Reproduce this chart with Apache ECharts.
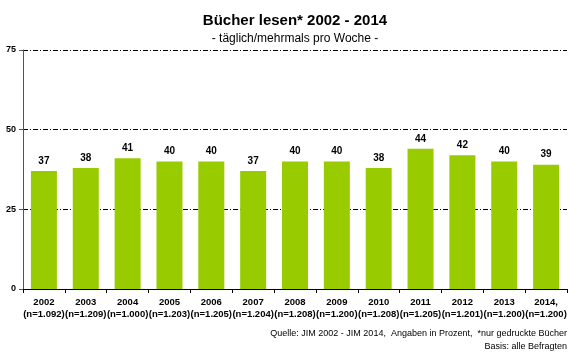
<!DOCTYPE html>
<html><head><meta charset="utf-8">
<script src="https://cdn.jsdelivr.net/npm/echarts@6/dist/echarts.min.js"></script>
<style>html,body{margin:0;padding:0;background:#fff}#c{width:580px;height:356px}</style>
</head><body><div id="c"></div>
<script>
const years = ['2002','2003','2004','2005','2006','2007','2008','2009','2010','2011','2012','2013','2014,'];
const samples = ['(n=1.092)','(n=1.209)','(n=1.000)','(n=1.203)','(n=1.205)','(n=1.204)','(n=1.208)','(n=1.200)','(n=1.208)','(n=1.205)','(n=1.201)','(n=1.200)','(n=1.200)'];
const values = [37,38,41,40,40,37,40,40,38,44,42,40,39];
const yTicks = [0,25,50,75];

const chart = echarts.init(document.getElementById('c'));
const F = 'Liberation Sans, Arial, sans-serif';
chart.setOption({
  animation:false,
  title:[
    {text:'Bücher lesen* 2002 - 2014', left:290, top:8, textAlign:'center',
     textStyle:{fontFamily:F,fontSize:15,fontWeight:'bold',color:'#000'}},
    {text:'- täglich/mehrmals pro Woche -', left:290, top:28, textAlign:'center',
     textStyle:{fontFamily:F,fontSize:12,fontWeight:'normal',color:'#000'}}
  ],
  graphic:[
    {type:'text',x:567,y:334,style:{text:'Quelle: JIM 2002 - JIM 2014,  Angaben in Prozent,  *nur gedruckte Bücher',
      align:'right',verticalAlign:'middle',font:'9px Liberation Sans, Arial, sans-serif',fill:'#000'}},
    {type:'text',x:567,y:347,style:{text:'Basis: alle Befragten',
      align:'right',verticalAlign:'middle',font:'9px Liberation Sans, Arial, sans-serif',fill:'#000'}}
  ],
  grid:{left:23,right:13,top:50,bottom:67},
  xAxis:{type:'category',data:years.map((y,i)=>y+'\n'+samples[i]),
    axisLine:{lineStyle:{color:'#000',width:1}},
    axisTick:{show:true,length:4,lineStyle:{color:'#000'}},
    axisLabel:{fontFamily:F,fontSize:9.5,fontWeight:'bold',color:'#000',lineHeight:12,margin:7,interval:0}},
  yAxis:{type:'value',min:0,max:75,interval:25,
    axisLine:{show:true,lineStyle:{color:'#555',width:1}},
    axisTick:{show:true,length:4,lineStyle:{color:'#555'}},
    axisLabel:{fontFamily:F,fontSize:9,fontWeight:'bold',color:'#000',margin:7,
      formatter:v=>yTicks.includes(v)?String(v):''},
    splitLine:{show:true,lineStyle:{color:'#000',width:1,type:[5,2,1,2]}}},
  series:[{type:'bar',data:values,barWidth:26,
    itemStyle:{color:'#99cc00'},
    label:{show:true,position:'top',distance:5,fontFamily:F,fontSize:10,fontWeight:'bold',color:'#000'}}]
});
</script></body></html>
